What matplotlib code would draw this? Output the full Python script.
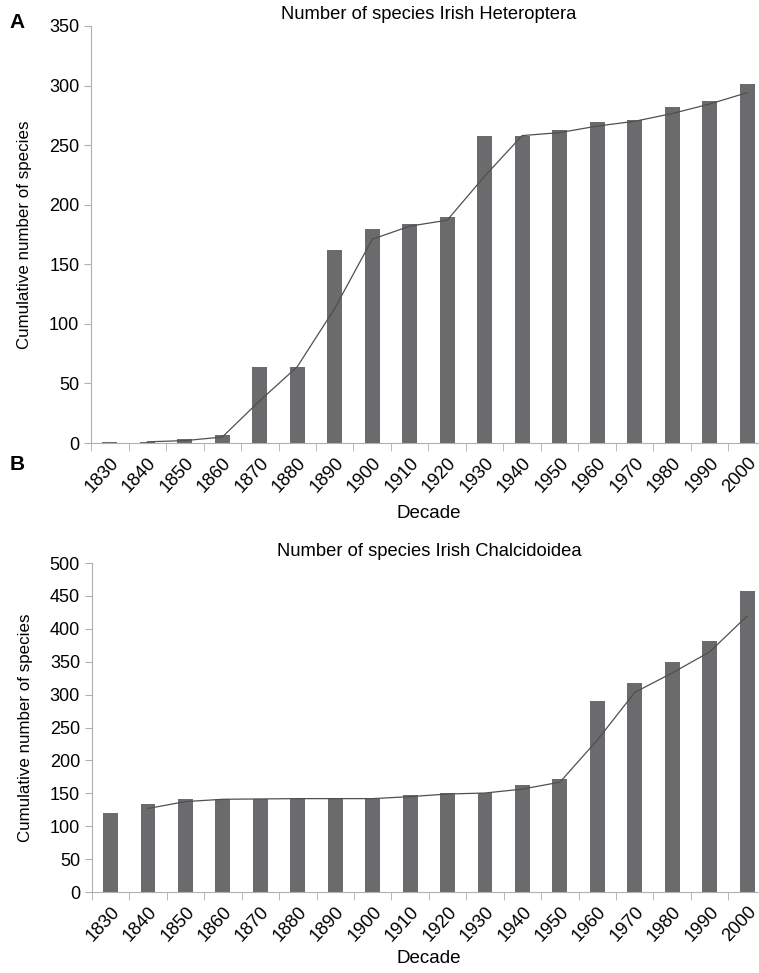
import numpy as np
import matplotlib.pyplot as plt

plt.rcParams['font.family'] = ['Liberation Sans', 'DejaVu Sans']

decades = [1830, 1840, 1850, 1860, 1870, 1880, 1890, 1900, 1910,
           1920, 1930, 1940, 1950, 1960, 1970, 1980, 1990, 2000]

# cumulative species counts per decade
heteroptera = [1, 1, 3, 7, 64, 64, 162, 180, 184,
               190, 258, 258, 263, 269, 271, 282, 287, 301]
chalcidoidea = [120, 134, 141, 141, 142, 142, 142, 142, 148,
                150, 151, 162, 172, 290, 317, 349, 381, 458]

# 2-period moving average trend lines (start at 1840)
heteroptera_trend = [1, 2, 5, 35.5, 64, 113, 171, 182,
                     187, 224, 258, 260.5, 266, 270, 276.5, 284.5, 294]
chalcidoidea_trend = [127, 137.5, 141, 141.5, 142, 142, 142, 145,
                      149, 150.5, 156.5, 167, 231, 303.5, 333, 365, 419.5]

bar_color = '#6b6b6d'
line_color = '#505050'
spine_color = '#b0b0b0'

fig = plt.figure(figsize=(7.59, 9.73), dpi=100)
ax_a = fig.add_axes([0.120, 0.5447, 0.889, 0.4286])
ax_b = fig.add_axes([0.121, 0.0832, 0.888, 0.3381])


def draw_panel(ax, values, trend, title, ymax, step, xlabelpad):
    x = np.arange(len(decades))
    ax.bar(x, values, width=0.4, color=bar_color, zorder=2)
    ax.plot(x[1:], trend, color=line_color, lw=0.9, zorder=3)
    ax.set_xlim(-0.5, len(decades) - 0.5)
    ax.set_ylim(0, ymax)
    ax.set_yticks(np.arange(0, ymax + 1, step))
    ax.set_xticks(x)
    ax.set_xticklabels([str(d) for d in decades], rotation=47, ha='right',
                       rotation_mode='anchor', fontsize=13.2)
    ax.set_xticks(np.arange(-0.5, len(decades)), minor=True)
    ax.tick_params(axis='x', which='major', length=0, pad=8)
    ax.tick_params(axis='x', which='minor', length=6, color=spine_color)
    ax.tick_params(axis='y', length=5, color=spine_color, labelsize=13)
    for side in ['top', 'right']:
        ax.spines[side].set_visible(False)
    for side in ['left', 'bottom']:
        ax.spines[side].set_color(spine_color)
    ax.set_title(title, fontsize=13.2, pad=5)
    ax.set_xlabel('Decade', fontsize=13.5, labelpad=xlabelpad)
    ax.set_ylabel('Cumulative number of species', fontsize=12.2,
                  labelpad=12)


draw_panel(ax_a, heteroptera, heteroptera_trend,
           'Number of species Irish Heteroptera', 350, 50, 7)
draw_panel(ax_b, chalcidoidea, chalcidoidea_trend,
           'Number of species Irish Chalcidoidea', 500, 50, 4)

fig.text(0.013, 0.977, 'A', fontsize=15, fontweight='bold', va='center')
fig.text(0.013, 0.523, 'B', fontsize=15, fontweight='bold', va='center')

fig.savefig('out.png', dpi=100)
